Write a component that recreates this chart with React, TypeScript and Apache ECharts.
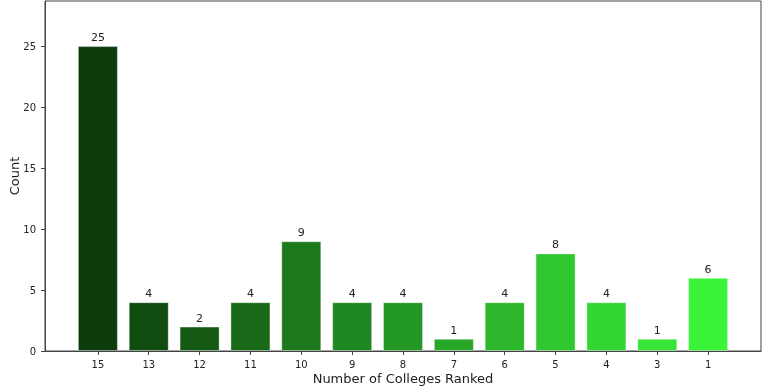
import React, { useEffect, useRef } from "react";
import * as echarts from "echarts";

const categories = ["15", "13", "12", "11", "10", "9", "8", "7", "6", "5", "4", "3", "1"];
const counts = [25, 4, 2, 4, 9, 4, 4, 1, 4, 8, 4, 1, 6];
const barColors = [
  "#0c3c0c", "#104b10", "#145a14", "#186a18", "#1c791c", "#208820",
  "#249824", "#27a727", "#2bb62b", "#2fc62f", "#33d533", "#37e437", "#3af43a",
];
const yTicks = [0, 5, 10, 15, 20, 25];

export default function App() {
  const ref = useRef<HTMLDivElement>(null);
  useEffect(() => {
    if (!ref.current) return;
    const chart = echarts.init(ref.current, undefined, { renderer: "svg" });
    const idx = categories.map((_, i) => i);
    chart.setOption({
      animation: false,
      grid: {
        left: 45,
        right: 5,
        top: 1,
        bottom: 37,
        outerBoundsMode: "none",
        containLabel: false,
        show: true,
        borderColor: "#444",
        borderWidth: 1,
        backgroundColor: "#fff",
      },
      xAxis: {
        type: "value",
        min: -1.04,
        max: 13.04,
        name: "Number of Colleges Ranked",
        nameLocation: "middle",
        nameGap: 21,
        nameMoveOverlap: false,
        nameTextStyle: { fontFamily: "DejaVu Sans", fontSize: 13, color: "#222" },
        axisLine: { show: true, onZero: false, lineStyle: { color: "#444" } },
        splitLine: { show: false },
        axisTick: { show: true, length: 4, lineStyle: { color: "#444" }, customValues: idx },
        axisLabel: {
          customValues: idx,
          fontFamily: "DejaVu Sans",
          fontSize: 10,
          color: "#222",
          margin: 8,
          formatter: (v: number) => categories[Math.round(v)] ?? "",
        },
      },
      yAxis: {
        type: "value",
        min: 0,
        max: 28.7,
        name: "Count",
        nameLocation: "middle",
        nameGap: 24,
        nameMoveOverlap: false,
        nameTextStyle: { fontFamily: "DejaVu Sans", fontSize: 13, color: "#222" },
        axisLine: { show: true, onZero: false, lineStyle: { color: "#444" } },
        splitLine: { show: false },
        axisTick: { show: true, length: 4, lineStyle: { color: "#444" }, customValues: yTicks },
        axisLabel: {
          customValues: yTicks,
          fontFamily: "DejaVu Sans",
          fontSize: 10,
          color: "#222",
          margin: 9,
        },
      },
      series: [
        {
          type: "bar",
          barWidth: 40,
          data: counts.map((c, i) => ({
            value: [i, c],
            itemStyle: { color: barColors[i], borderColor: "rgba(255,255,255,0.35)", borderWidth: 1 },
          })),
          label: {
            show: true,
            position: "top",
            distance: 3,
            fontFamily: "DejaVu Sans",
            fontSize: 11,
            color: "#222",
            formatter: (p: any) => String(p.value[1]),
          },
        },
      ],
    });
    return () => chart.dispose();
  }, []);
  return <div ref={ref} style={{ position: "fixed", left: 0, top: 0, width: 766, height: 388 }} />;
}
